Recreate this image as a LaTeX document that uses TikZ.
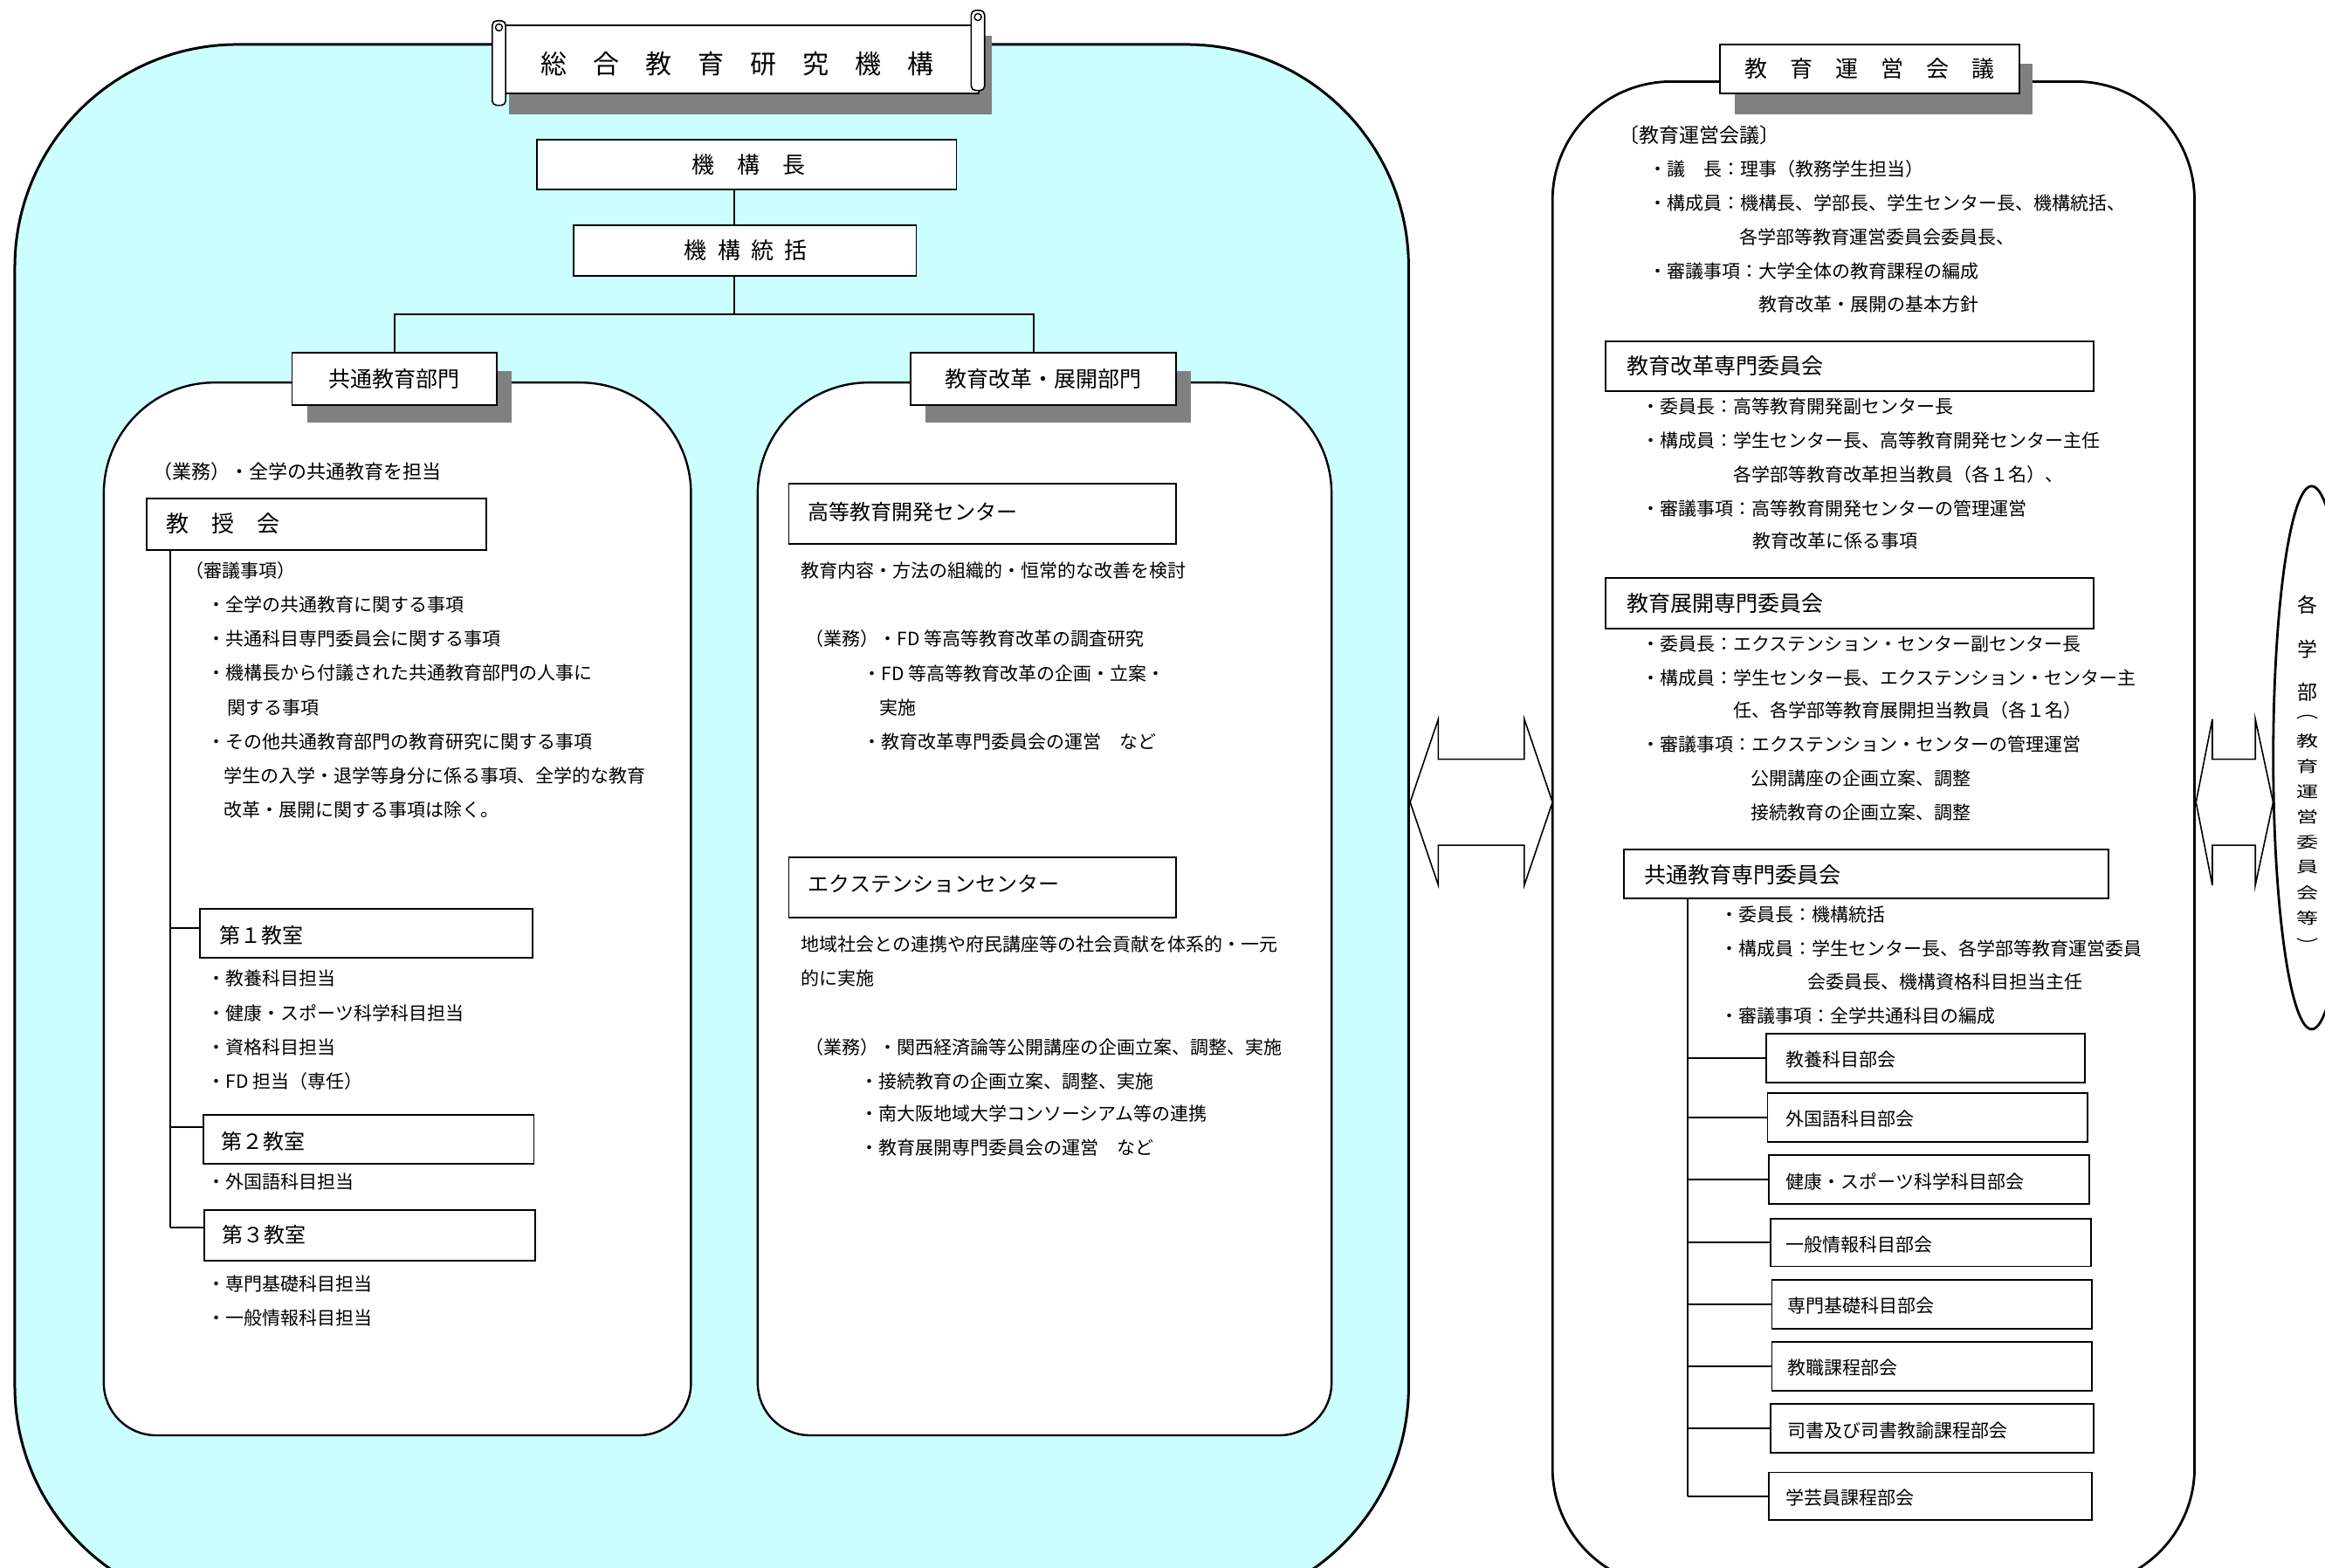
\documentclass[tikz,border=0pt]{standalone}
\usepackage{fontspec}
\setmainfont{Noto Sans CJK JP}
\usetikzlibrary{fit}
\definecolor{cyanbg}{RGB}{204,255,255}
\definecolor{shadowgray}{RGB}{128,128,128}
\newcommand\fsz[1]{\fontsize{#1pt}{#1pt}\selectfont}
\newcommand\vsq[1]{\scalebox{1.05}[0.74]{#1}}
\begin{document}
\begin{tikzpicture}[x=1.6983pt,y=-1.6983pt,
  txt/.style={anchor=west,inner sep=0pt,font=\fsz{21}},
  hd/.style={anchor=center,inner sep=0pt},
  vch/.style={anchor=center,inner sep=0pt,font=\fsz{24}},
  box/.style={draw,line width=1.8pt,fill=white,inner sep=0pt},
  conn/.style={line width=1.8pt},
  panel/.style={draw,line width=2.4pt,fill=white},
  hollowarrow/.style={draw,line width=1.6pt,fill=white,line join=miter}]
\useasboundingbox (0,0) rectangle (1568,1057);
\clip (0,0) rectangle (1568,1057);
\fill[white] (0,0) rectangle (1568,1057);

% ---------- big region ----------
\draw[line width=3pt, fill=cyanbg, rounded corners=255pt] (10,30) rectangle (950,1085);
% ---------- right panel ----------
\draw[panel, line width=2.8pt, rounded corners=136pt] (1047,55) rectangle (1480,1070);
% ---------- inner panels ----------
\draw[panel] (70,600) [rounded corners=127pt] -- (70,258) -- (466,258) -- (466,600) [rounded corners=60pt] -- (466,968) -- (70,968) -- cycle;
\draw[panel] (511,600) [rounded corners=127pt] -- (511,258) -- (898,258) -- (898,600) [rounded corners=60pt] -- (898,968) -- (511,968) -- cycle;

% ---------- scroll title ----------
\fill[shadowgray] (343,24) rectangle (669,77);
\node[box, line width=1.6pt, fit={(337,17) (660,63)}] (scroll) {};
\draw[line width=1.6pt, fill=white, rounded corners=5pt] (332,14) rectangle (341,71);
\draw[line width=1.4pt] (336.5,18.5) circle[radius=4pt];
\draw[line width=1.6pt, fill=white, rounded corners=5pt] (655,7) rectangle (664,61);
\draw[line width=1.4pt] (659.5,11.5) circle[radius=4pt];
\node[hd, font=\fsz{30}] (scrollT) at (497,43) {総　合　教　育　研　究　機　構};

% ---------- top of tree ----------
\node[box, fit={(362,94) (645,128)}] (kikocho) {};
\node[hd, font=\fsz{26}] (kikochoT) at (505,111) {機　構　長};
\node[box, fit={(387,152) (618,186)}] (tokatsu) {};
\node[hd, font=\fsz{26}] (tokatsuT) at (503,169) {機\hspace{0.47em}構\hspace{0.47em}統\hspace{0.47em}括};
\coordinate (kt) at (495,212);
\coordinate (kk) at (697,238);
\draw[conn] (kikocho.south -| kt) -- (tokatsu.north -| kt);
\draw[conn] (tokatsu.south -| kt) -- (kt);

\fill[shadowgray] (207,250) rectangle (345,285);
\node[box, fit={(197,238) (335,273)}] (kyotsu) {};
\node[hd, font=\fsz{25}] (kyotsuT) at (kyotsu.center) {共通教育部門};
\fill[shadowgray] (624,250) rectangle (803,285);
\node[box, fit={(614,238) (793,273)}] (kaikaku) {};
\node[hd, font=\fsz{25}] (kaikakuT) at (kaikaku.center) {教育改革・展開部門};
\draw[conn] (kyotsu.north) |- (kt);
\draw[conn] (kk) |- (kt);

% ---------- left panel content ----------
\node[txt, font=\fsz{22}] (a0) at (103,318) {（業務）・全学の共通教育を担当};
\node[box, fit={(99,336) (328,371)}] (kyoju) {};
\node[txt, font=\fsz{26}] (kyojuT) at (112,353) {教　授　会};
\node[txt] (a1) at (125,385) {（審議事項）};
\node[txt] (a2) at (140,408) {・全学の共通教育に関する事項};
\node[txt] (a3) at (140,431) {・共通科目専門委員会に関する事項};
\node[txt] (a4) at (140,454) {・機構長から付議された共通教育部門の人事に};
\node[txt] (a5) at (153,477) {関する事項};
\node[txt] (a6) at (140,500) {・その他共通教育部門の教育研究に関する事項};
\node[txt] (a7) at (151,523) {学生の入学・退学等身分に係る事項、全学的な教育};
\node[txt] (a8) at (151,546) {改革・展開に関する事項は除く。};

\node[box, fit={(135,613) (359,646)}] (dai1) {};
\node[txt, font=\fsz{24}] (dai1T) at (148,631) {第１教室};
\node[txt] (a9) at (140,660) {・教養科目担当};
\node[txt] (a10) at (140,683) {・健康・スポーツ科学科目担当};
\node[txt] (a11) at (140,706) {・資格科目担当};
\node[txt] (a12) at (140,729) {・FD 担当（専任）};
\node[box, fit={(137,752) (360,785)}] (dai2) {};
\node[txt, font=\fsz{24}] (dai2T) at (149,770) {第２教室};
\node[txt] (a13) at (140,797) {・外国語科目担当};
\node[box, fit={(138,816) (361,850)}] (dai3) {};
\node[txt, font=\fsz{24}] (dai3T) at (150,833) {第３教室};
\node[txt] (a14) at (140,866) {・専門基礎科目担当};
\node[txt] (a15) at (140,889) {・一般情報科目担当};

\coordinate (kjv) at (115,371);
\coordinate (tk1) at (135,626);
\coordinate (tk2) at (137,760);
\coordinate (tk3) at (138,828);
\draw[conn] (kjv) -- (kjv |- tk3);
\draw[conn] (kjv |- tk1) -- (tk1);
\draw[conn] (kjv |- tk2) -- (tk2);
\draw[conn] (kjv |- tk3) -- (tk3);

% ---------- middle panel content ----------
\node[box, fit={(532,326) (793,367)}] (kodo) {};
\node[txt, font=\fsz{24}] (kodoT) at (545,345) {高等教育開発センター};
\node[txt] (c1) at (540,385) {教育内容・方法の組織的・恒常的な改善を検討};
\node[txt] (c2) at (543,431) {（業務）・FD 等高等教育改革の調査研究};
\node[txt] (c3) at (582,454) {・FD 等高等教育改革の企画・立案・};
\node[txt] (c4) at (593,477) {実施};
\node[txt] (c5) at (582,500) {・教育改革専門委員会の運営　など};
\node[box, fit={(532,578) (793,619)}] (ext) {};
\node[txt, font=\fsz{24}] (extT) at (545,596) {エクステンションセンター};
\node[txt] (c6) at (540,637) {地域社会との連携や府民講座等の社会貢献を体系的・一元};
\node[txt] (c7) at (540,660) {的に実施};
\node[txt] (c8) at (543,706) {（業務）・関西経済論等公開講座の企画立案、調整、実施};
\node[txt] (c9) at (580,729) {・接続教育の企画立案、調整、実施};
\node[txt] (c10) at (580,751) {・南大阪地域大学コンソーシアム等の連携};
\node[txt] (c11) at (580,774) {・教育展開専門委員会の運営　など};

% ---------- double arrows ----------
\draw[hollowarrow] (951,541) -- (970,485) -- (970,512) -- (1028,512) -- (1028,485) -- (1047,541) -- (1028,597) -- (1028,570) -- (970,570) -- (970,597) -- cycle;
\draw[hollowarrow] (1481,541) -- (1492,485) -- (1492,512) -- (1521,512) -- (1521,485) -- (1533,541) -- (1521,597) -- (1521,570) -- (1492,570) -- (1492,597) -- cycle;

% ---------- right panel content ----------
\fill[shadowgray] (1170,43) rectangle (1371,77);
\node[box, fit={(1160,30) (1362,63)}] (unei) {};
\node[hd, font=\fsz{26}] (uneiT) at (unei.center) {教　育　運　営　会　議};

\node[txt, font=\fsz{23}] (r0) at (1092,91) {〔教育運営会議〕};
\node[txt] (r1) at (1112,114) {・議　長：理事（教務学生担当）};
\node[txt] (r2) at (1112,137) {・構成員：機構長、学部長、学生センター長、機構統括、};
\node[txt] (r3) at (1173,160) {各学部等教育運営委員会委員長、};
\node[txt] (r4) at (1112,183) {・審議事項：大学全体の教育課程の編成};
\node[txt] (r5) at (1186,205) {教育改革・展開の基本方針};

\node[box, fit={(1083,230) (1412,264)}] (kk1) {};
\node[txt, font=\fsz{25}] (kk1T) at (1097,247) {教育改革専門委員会};
\node[txt] (r6) at (1107,274) {・委員長：高等教育開発副センター長};
\node[txt] (r7) at (1107,297) {・構成員：学生センター長、高等教育開発センター主任};
\node[txt] (r8) at (1169,320) {各学部等教育改革担当教員（各１名）、};
\node[txt] (r9) at (1107,343) {・審議事項：高等教育開発センターの管理運営};
\node[txt] (r10) at (1182,365) {教育改革に係る事項};

\node[box, fit={(1083,390) (1412,424)}] (kk2) {};
\node[txt, font=\fsz{25}] (kk2T) at (1097,407) {教育展開専門委員会};
\node[txt] (r11) at (1107,434) {・委員長：エクステンション・センター副センター長};
\node[txt] (r12) at (1107,457) {・構成員：学生センター長、エクステンション・センター主};
\node[txt] (r13) at (1169,479) {任、各学部等教育展開担当教員（各１名）};
\node[txt] (r14) at (1107,502) {・審議事項：エクステンション・センターの管理運営};
\node[txt] (r15) at (1181,525) {公開講座の企画立案、調整};
\node[txt] (r16) at (1181,548) {接続教育の企画立案、調整};

\node[box, fit={(1095,573) (1422,606)}] (kk3) {};
\node[txt, font=\fsz{25}] (kk3T) at (1109,590) {共通教育専門委員会};
\node[txt] (r17) at (1160,617) {・委員長：機構統括};
\node[txt] (r18) at (1160,640) {・構成員：学生センター長、各学部等教育運営委員};
\node[txt] (r19) at (1219,662) {会委員長、機構資格科目担当主任};
\node[txt] (r20) at (1160,685) {・審議事項：全学共通科目の編成};

\node[box, fit={(1191,697) (1406,730)}] (b1) {};
\node[box, fit={(1192,737) (1408,770)}] (b2) {};
\node[box, fit={(1193,779) (1409,812)}] (b3) {};
\node[box, fit={(1194,822) (1410,854)}] (b4) {};
\node[box, fit={(1195,863) (1411,896)}] (b5) {};
\node[box, fit={(1195,905) (1411,938)}] (b6) {};
\node[box, fit={(1194,947) (1412,980)}] (b7) {};
\node[box, fit={(1193,993) (1411,1025)}] (b8) {};
\node[txt] (b1T) at ([xshift=14*1.6983pt,yshift=-2pt]b1.west) {教養科目部会};
\node[txt] (b2T) at ([xshift=13*1.6983pt,yshift=-2pt]b2.west) {外国語科目部会};
\node[txt] (b3T) at ([xshift=12*1.6983pt,yshift=-2pt]b3.west) {健康・スポーツ科学科目部会};
\node[txt] (b4T) at ([xshift=11*1.6983pt,yshift=-2pt]b4.west) {一般情報科目部会};
\node[txt] (b5T) at ([xshift=11*1.6983pt,yshift=-2pt]b5.west) {専門基礎科目部会};
\node[txt] (b6T) at ([xshift=11*1.6983pt,yshift=-2pt]b6.west) {教職課程部会};
\node[txt] (b7T) at ([xshift=12*1.6983pt,yshift=-2pt]b7.west) {司書及び司書教諭課程部会};
\node[txt] (b8T) at ([xshift=12*1.6983pt,yshift=-2pt]b8.west) {学芸員課程部会};

\coordinate (kv) at (1138,606);
\draw[conn] (kv) -- (kv |- b8.west);
\foreach \b in {b1,b2,b3,b4,b5,b6,b7,b8} {\draw[conn] (kv |- \b.west) -- (\b.west);}

% ---------- faculties ellipse ----------
\draw[line width=2.8pt, fill=white] (1559,511) ellipse [x radius=44pt, y radius=311pt];
\node[hd, font=\fsz{23}] (e1) at (1556,408) {各};
\node[hd, font=\fsz{23}] (e2) at (1556,438) {学};
\node[hd, font=\fsz{23}] (e3) at (1556,467) {部};
\node[vch] (e4) at (1556,484) {\vsq{︵}};
\node[vch] (e5) at (1556,500) {\vsq{教}};
\node[vch] (e6) at (1556,517) {\vsq{育}};
\node[vch] (e7) at (1556,534) {\vsq{運}};
\node[vch] (e8) at (1556,551) {\vsq{営}};
\node[vch] (e9) at (1556,568) {\vsq{委}};
\node[vch] (e10) at (1556,585) {\vsq{員}};
\node[vch] (e11) at (1556,602) {\vsq{会}};
\node[vch] (e12) at (1556,619) {\vsq{等}};
\node[vch] (e13) at (1556,637) {\vsq{︶}};
\end{tikzpicture}
\end{document}
